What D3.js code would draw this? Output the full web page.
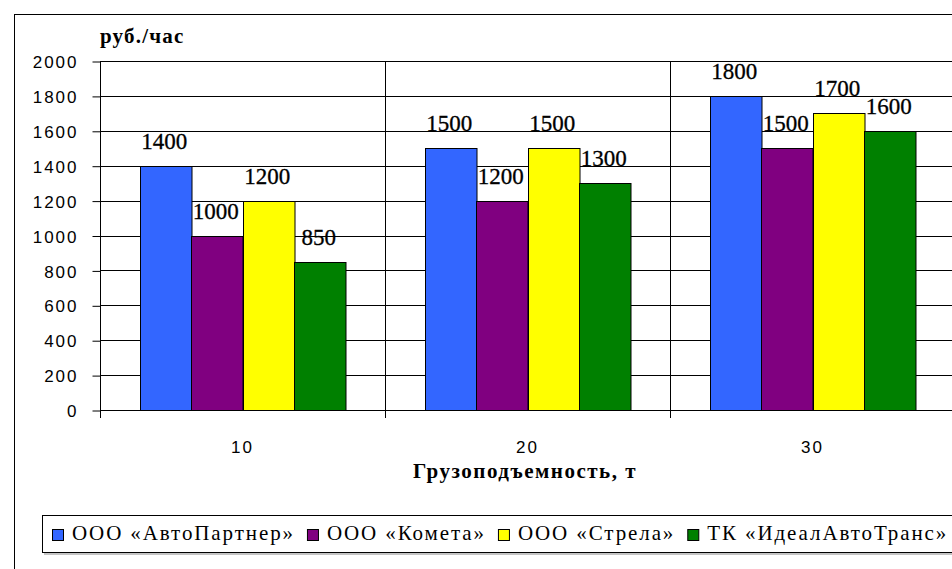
<!DOCTYPE html>
<html>
<head>
<meta charset="utf-8">
<script src="https://cdn.jsdelivr.net/npm/d3@7"></script>
<style>
  html, body { margin: 0; padding: 0; background: #fff; }
  svg { display: block; }
  .serif { font-family: "Liberation Serif", "Times New Roman", Tinos, "DejaVu Serif", serif; }
  .sans { font-family: "Liberation Sans", Arial, Arimo, "DejaVu Sans", sans-serif; }
</style>
</head>
<body>
<svg id="chart" width="952" height="569"></svg>
<script>
// Грузоподъемность (т) по оси X
const categories = ["10", "20", "30"];
// Компании-перевозчики
const series = ["ООО «АвтоПартнер»", "ООО «Комета»", "ООО «Стрела»", "ТК «ИдеалАвтоТранс»"];
// Стоимость, руб./час, по каждой компании для 10, 20, 30 т
const avtoPartner = [1400, 1500, 1800];
const kometa = [1000, 1200, 1500];
const strela = [1200, 1500, 1700];
const idealAvtoTrans = [850, 1300, 1600];
const yTicks = [0, 200, 400, 600, 800, 1000, 1200, 1400, 1600, 1800, 2000];
const colors = ["#3366ff", "#800080", "#ffff00", "#008000"];

const values = [avtoPartner, kometa, strela, idealAvtoTrans];

const svg = d3.select("#chart");

// outer chart frame
svg.append("rect")
  .attr("x", 14.5).attr("y", 14.5)
  .attr("width", 1000).attr("height", 600)
  .attr("fill", "#fff").attr("stroke", "#000").attr("stroke-width", 1);

const plot = { left: 100, right: 955, top: 61, bottom: 410 };

const x0 = d3.scaleBand().domain(categories).range([plot.left, plot.right]).padding(0);
const groupPad = 39.5;
const x1 = d3.scaleBand().domain(series).range([groupPad, x0.bandwidth() - groupPad]).padding(0);
const y = d3.scaleLinear().domain([0, 2000]).range([plot.bottom, plot.top]);

// horizontal gridlines
svg.append("g").selectAll("line").data(yTicks).join("line")
  .attr("x1", plot.left).attr("x2", plot.right + 10)
  .attr("y1", d => Math.round(y(d)) + 0.5).attr("y2", d => Math.round(y(d)) + 0.5)
  .attr("stroke", "#000").attr("stroke-width", 1);

// vertical category dividers, extending below the axis as ticks
const dividers = categories.map(c => x0(c)).concat([plot.right]);
svg.append("g").selectAll("line").data(dividers).join("line")
  .attr("x1", d => Math.round(d) + 0.5).attr("x2", d => Math.round(d) + 0.5)
  .attr("y1", plot.top).attr("y2", plot.bottom + 8)
  .attr("stroke", "#000").attr("stroke-width", 1);

// y axis
const yAxis = d3.axisLeft(y).tickValues(yTicks).tickFormat(d3.format("d"))
  .tickSize(8).tickPadding(14).tickSizeOuter(0);
const yg = svg.append("g").attr("transform", `translate(${plot.left + 0.5},0.5)`).call(yAxis);
yg.attr("font-family", null);
yg.select(".domain").remove();
yg.selectAll(".tick line").attr("stroke", "#000");
yg.selectAll(".tick text")
  .attr("class", "sans")
  .attr("font-size", 17).attr("letter-spacing", "2px").attr("fill", "#000")
  .attr("dy", "0.36em");

// x axis labels
const xAxis = d3.axisBottom(x0).tickSize(0).tickPadding(0);
const xg = svg.append("g").attr("transform", `translate(0,${plot.bottom})`).call(xAxis);
xg.attr("font-family", null);
xg.select(".domain").remove();
xg.selectAll(".tick text")
  .attr("class", "sans")
  .attr("font-size", 17).attr("letter-spacing", "2px").attr("fill", "#000")
  .attr("y", 43).attr("dy", 0);

// bars
const groups = svg.append("g").selectAll("g").data(categories).join("g")
  .attr("transform", c => `translate(${x0(c)},0)`);

groups.selectAll("rect").data((c, ci) => series.map((s, si) => ({ s, si, v: values[si][ci] })))
  .join("rect")
  .attr("x", d => Math.round(x1(d.s)) + 0.5)
  .attr("y", d => Math.round(y(d.v)) + 0.5)
  .attr("width", x1.bandwidth())
  .attr("height", d => Math.round(y(0)) - Math.round(y(d.v)))
  .attr("fill", d => colors[d.si])
  .attr("stroke", "#000").attr("stroke-width", 1);

// value labels above each bar
groups.selectAll("text").data((c, ci) => series.map((s, si) => ({ s, si, v: values[si][ci] })))
  .join("text")
  .attr("class", "serif")
  .attr("x", d => x1(d.s) + x1.bandwidth() / 2 - 1)
  .attr("y", d => y(d.v) - 17)
  .attr("text-anchor", "middle")
  .attr("font-size", 23).attr("fill", "#000")
  .attr("stroke", "#000").attr("stroke-width", 0.3)
  .text(d => d.v);

// y unit caption
svg.append("text")
  .attr("class", "serif")
  .attr("x", 100).attr("y", 43)
  .attr("font-size", 21).attr("font-weight", "bold").attr("letter-spacing", "1.2px")
  .text("руб./час");

// x axis title
svg.append("text")
  .attr("class", "serif")
  .attr("x", 525).attr("y", 478).attr("text-anchor", "middle")
  .attr("font-size", 21).attr("font-weight", "bold").attr("letter-spacing", "1.5px")
  .text("Грузоподъемность, т");

// legend
const legend = svg.append("g");
legend.append("rect")
  .attr("x", 42.5).attr("y", 515.5).attr("width", 1000).attr("height", 37)
  .attr("fill", "#fff").attr("stroke", "#000").attr("stroke-width", 1);
legend.append("line")
  .attr("x1", 44).attr("x2", 1000).attr("y1", 554).attr("y2", 554)
  .attr("stroke", "#888");

let lx = 52;
series.forEach((s, i) => {
  legend.append("rect")
    .attr("x", lx + 0.5).attr("y", 529.5).attr("width", 11).attr("height", 11)
    .attr("fill", colors[i]).attr("stroke", "#000");
  const t = legend.append("text")
    .attr("class", "serif")
    .attr("x", lx + 20).attr("y", 540)
    .attr("font-size", 21).attr("letter-spacing", "1.9px").attr("fill", "#000")
    .text(s);
  lx += 20 + t.node().getComputedTextLength() + 12;
});
</script>
</body>
</html>
